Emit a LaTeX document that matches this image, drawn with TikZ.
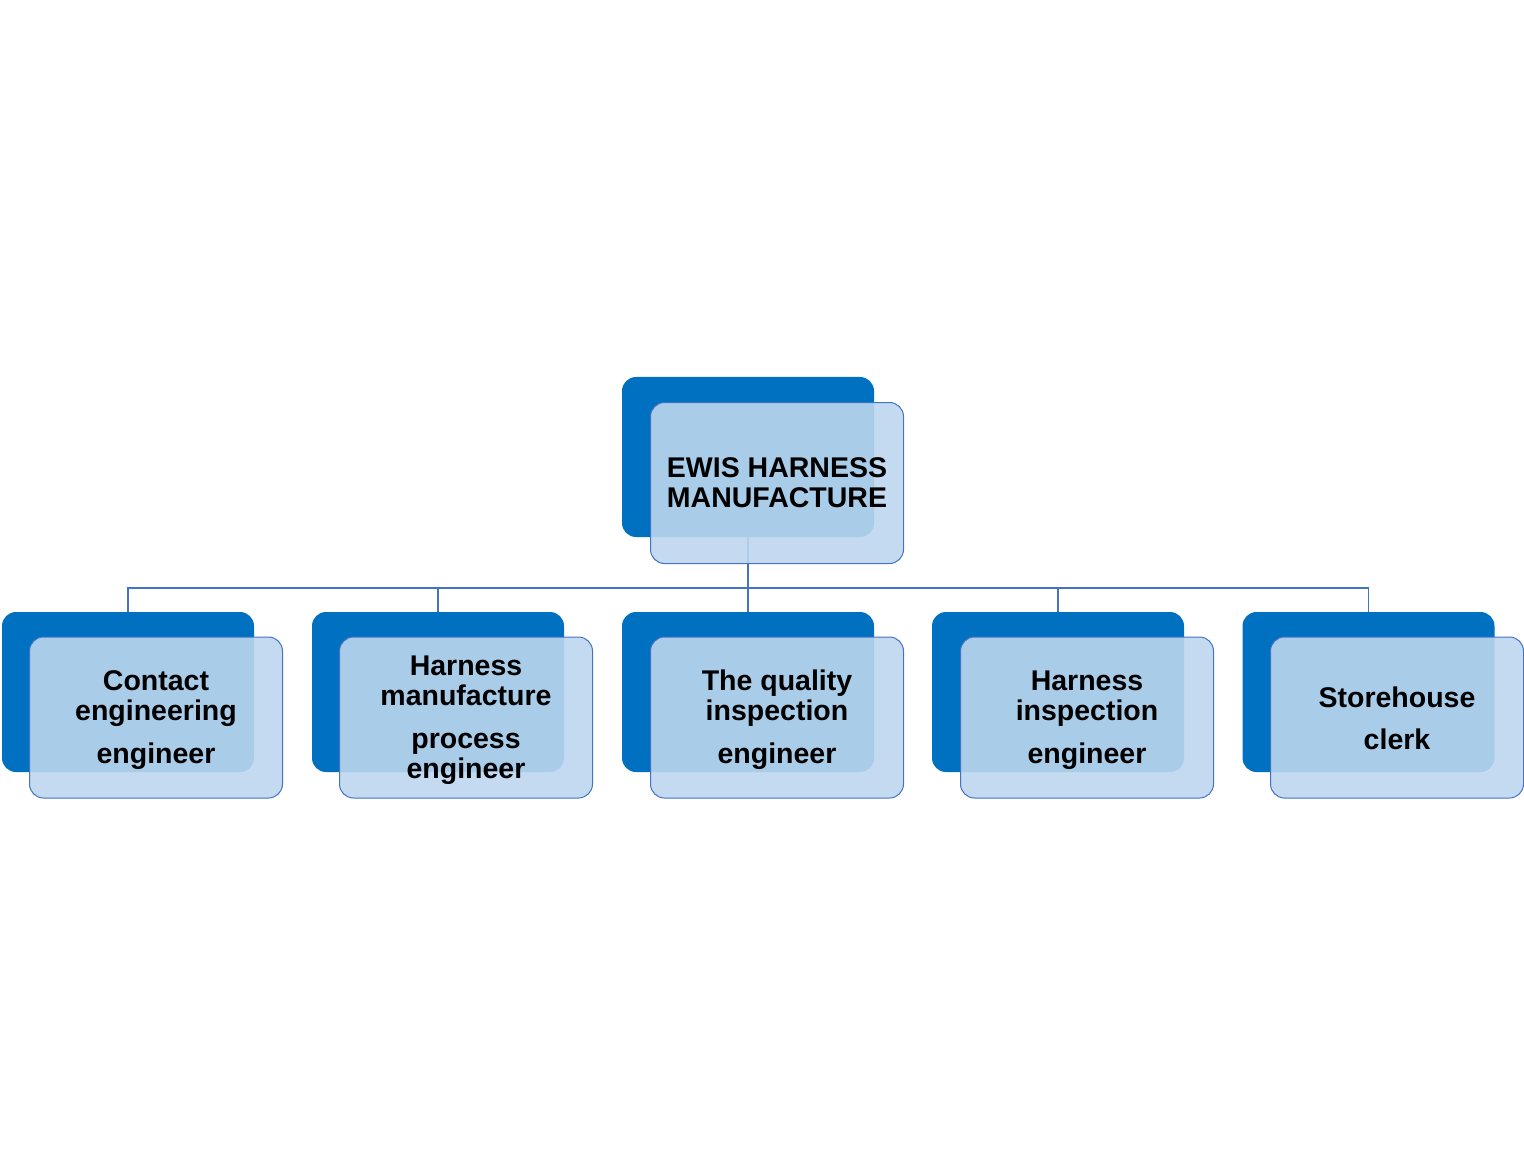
\documentclass[tikz,border=0pt]{standalone}
\usepackage{fontspec}
\setmainfont{Liberation Sans}
\definecolor{darkb}{RGB}{0,112,192}
\definecolor{lightb}{RGB}{188,214,238}
\definecolor{edgeb}{RGB}{68,114,196}
\begin{document}
\begin{tikzpicture}[x=1pt,y=-1pt,
  backbox/.style={fill=darkb, draw=none, rounded corners=14pt, minimum width=252pt, minimum height=160pt, inner sep=0pt},
  frontbox/.style={fill=lightb, fill opacity=0.9, text opacity=1, draw=edgeb, line width=1pt, rounded corners=14pt, minimum width=253pt, minimum height=161pt, inner sep=0pt, align=center, font=\fontsize{28.5}{30}\selectfont\bfseries},
  lbl/.style={align=center, inner sep=0pt, font=\fontsize{28.5}{30}\selectfont\bfseries},
  conn/.style={draw=edgeb, line width=1.2pt}]
\useasboundingbox (0,0) rectangle (1524,1174);
% back boxes
\node[backbox] (tb) at (748,457) {};
\node[backbox] (b1) at (128,692) {};
\node[backbox] (b2) at (438,692) {};
\node[backbox] (b3) at (748,692) {};
\node[backbox] (b4) at (1058,692) {};
\node[backbox] (b5) at (1368.5,692) {};
% connectors
\coordinate (bus) at (748,588);
\draw[conn] (tb.south) -- (bus);
\draw[conn] (bus) -| (b1.north);
\draw[conn] (bus) -| (b2.north);
\draw[conn] (bus) -- (b3.north);
\draw[conn] (bus) -| (b4.north);
\draw[conn] (bus) -| (b5.north);
% front boxes
\node[frontbox] (tf) at (777,483) {EWIS HARNESS\\MANUFACTURE};
\node[frontbox] (f1) at (156,717.5) {};
\node[frontbox] (f2) at (466,717.5) {};
\node[frontbox] (f3) at (777,717.5) {};
\node[frontbox] (f4) at (1087,717.5) {};
\node[frontbox] (f5) at (1397,717.5) {};
\node[lbl] (t1) at ([yshift=-2.5pt]f1.center) {Contact\\engineering\\[13pt]engineer};
\node[lbl] (t2) at ([yshift=-2.5pt]f2.center) {Harness\\manufacture\\[13pt]process\\engineer};
\node[lbl] (t3) at ([yshift=-2.5pt]f3.center) {The quality\\inspection\\[13pt]engineer};
\node[lbl] (t4) at ([yshift=-2.5pt]f4.center) {Harness\\inspection\\[13pt]engineer};
\node[lbl] (t5) at ([yshift=-0.5pt]f5.center) {Storehouse\\[12pt]clerk};
\end{tikzpicture}
\end{document}
